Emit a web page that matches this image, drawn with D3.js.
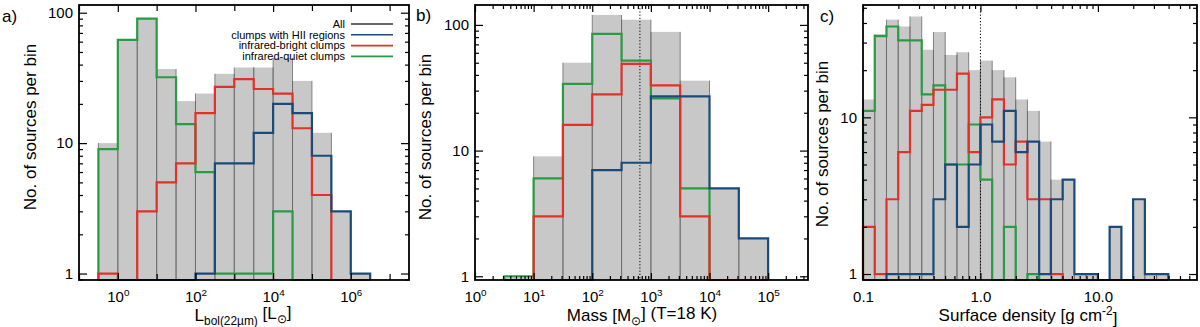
<!DOCTYPE html>
<html>
<head>
<meta charset="utf-8">
<script src="https://cdn.jsdelivr.net/npm/d3@7"></script>
<style>
  body { margin: 0; background: #fff; }
  svg { display: block; font-family: "Liberation Sans", Arial, Helvetica, sans-serif; }
</style>
</head>
<body>
<svg id="chart" width="1200" height="327"></svg>
<script>
/////////DATA///////////

// a) luminosity, bin edges in log10(L/Lsun)
const lumEdges = [-0.5, 0, 0.5, 1, 1.5, 2, 2.5, 3, 3.5, 4, 4.5, 5, 5.5, 6, 6.5];
const lumAll    = [10, 62, 90, 37, 21, 24, 34, 38, 38, 45, 30, 12, 3, 1];
const lumHII    = [0, 0, 0, 0, 0, 1, 7, 7, 12, 20, 17, 8, 3, 1];
const lumBright = [1, 0, 3, 5, 7, 17, 27, 31, 26, 24, 13, 4, 0, 0];
const lumQuiet  = [9, 62, 90, 32, 14, 6, 1, 1, 1, 3, 0, 0, 0, 0];

// b) mass, bin edges in log10(M/Msun)
const massEdges = [0.5, 1, 1.5, 2, 2.5, 3, 3.5, 4, 4.5, 5];
const massAll    = [1, 9, 50, 120, 110, 88, 36, 5, 2];
const massHII    = [0, 0, 0, 7, 8, 27, 27, 5, 2];
const massBright = [0, 3, 16, 28, 49, 33, 3, 0, 0];
const massQuiet  = [1, 6, 34, 85, 52, 26, 5, 0, 0];
const massMarker = 650;

// c) surface density, bin edges in log10(g cm^-2)
const sdEdges = [-1.0, -0.9, -0.8, -0.7, -0.6, -0.5, -0.4, -0.3, -0.2, -0.1, 0.0, 0.1, 0.2, 0.3,
                 0.4, 0.5, 0.6, 0.7, 0.8, 0.9, 1.0, 1.1, 1.2, 1.3, 1.4, 1.5, 1.6];
const sdAll    = [13, 34, 42, 38, 44, 27, 35, 25, 26, 20, 23, 20, 18, 13, 11, 7, 4, 4, 1, 1, 0, 2, 0, 3, 1, 1];
const sdHII    = [0, 0, 1, 1, 1, 1, 3, 5, 2, 5, 9, 7, 11, 6, 7, 1, 3, 4, 1, 1, 0, 2, 0, 3, 1, 1];
const sdBright = [2, 1, 3, 6, 11, 12, 15, 15, 19, 6, 10, 13, 5, 7, 3, 3, 1, 0, 0, 0, 0, 0, 0, 0, 0, 0];
const sdQuiet  = [11, 33, 38, 31, 31, 14, 16, 5, 5, 9, 4, 0, 2, 0, 1, 0, 0, 0, 0, 0, 0, 0, 0, 0, 0, 0];
const sdMarker = 1.0;

const legendLabels = ['All', 'clumps with HII regions', 'infrared-bright clumps', 'infrared-quiet clumps'];

/////////STYLE///////////

const colAll = '#333333';
const colHII = '#1c4a78';
const colBright = '#e2302b';
const colQuiet = '#2a9a44';

const svg = d3.select('#chart');
const plotTop = 5, plotBottom = 280;

const panels = [
  { id: 'a', left: 79, right: 409, xDom: [0.1, Math.pow(10, 7.5)], yDom: [0.892, 114.6],
    edges: lumEdges, all: lumAll, hii: lumHII, bright: lumBright, quiet: lumQuiet,
    xTicks: [1e0, 1e2, 1e4, 1e6], xMinor: [1e-1, 1e1, 1e3, 1e5, 1e7], xFmt: 'pow',
    yTicks: [1, 10, 100], yLabelX: 36, yLabelY: 127, tag: 'a)', tagX: 2, tagY: 22,
    xTitle: 'lum', xTitleX: 243, legend: true },
  { id: 'b', left: 475, right: 808, xDom: [1, Math.pow(10, 5.68)], yDom: [0.934, 144],
    edges: massEdges, all: massAll, hii: massHII, bright: massBright, quiet: massQuiet,
    xTicks: [1e0, 1e1, 1e2, 1e3, 1e4, 1e5], xMinor: 'auto', xFmt: 'pow',
    yTicks: [1, 10, 100], yLabelX: 431, yLabelY: 137, tag: 'b)', tagX: 416, tagY: 21,
    xTitle: 'mass', xTitleX: 642, marker: massMarker },
  { id: 'c', left: 863, right: 1197, xDom: [0.1, 69.8], yDom: [0.916, 52.1],
    edges: sdEdges, all: sdAll, hii: sdHII, bright: sdBright, quiet: sdQuiet,
    xTicks: [0.1, 1, 10], xMinor: 'auto', xFmt: 'dec',
    yTicks: [1, 10], yLabelX: 828, yLabelY: 144, tag: 'c)', tagX: 820, tagY: 22,
    xTitle: 'sd', xTitleX: 1028, marker: sdMarker }
];

panels.forEach(p => {
  const x = d3.scaleLog().domain(p.xDom).range([p.left, p.right]);
  const y = d3.scaleLog().domain(p.yDom).range([plotBottom, plotTop]);
  const g = svg.append('g').attr('id', 'panel-' + p.id);
  const yv = v => v > 0 ? y(v) : plotBottom;
  const xe = e => x(Math.pow(10, e));

  /////////BARS/////////
  const bars = p.all.map((v, i) => ({ x0: p.edges[i], x1: p.edges[i + 1], v: v })).filter(d => d.v > 0);
  g.selectAll('rect.bar')
    .data(bars)
    .enter()
    .append('rect')
    .attr('class', 'bar')
    .attr('x', d => xe(d.x0))
    .attr('width', d => xe(d.x1) - xe(d.x0))
    .attr('y', d => y(d.v))
    .attr('height', d => plotBottom - y(d.v))
    .attr('fill', '#c8c8c8');
  g.selectAll('line.sep')
    .data(bars.flatMap(d => [{ e: d.x0, v: d.v }, { e: d.x1, v: d.v }]))
    .enter()
    .append('line')
    .attr('class', 'sep')
    .attr('x1', d => xe(d.e)).attr('x2', d => xe(d.e))
    .attr('y1', plotBottom).attr('y2', d => y(d.v))
    .attr('stroke', '#6a6a6a')
    .attr('stroke-width', 0.8);

  /////////MARKER/////////
  if (p.marker) {
    g.append('line')
      .attr('x1', x(p.marker)).attr('x2', x(p.marker))
      .attr('y1', plotTop).attr('y2', plotBottom)
      .attr('stroke', '#000')
      .attr('stroke-width', 1)
      .attr('stroke-dasharray', '1.2,2');
  }

  /////////STEP LINES/////////
  const line = d3.line().x(d => xe(d[0])).y(d => d[1]).curve(d3.curveStepAfter);
  const steps = vals => {
    const pts = [[p.edges[0], plotBottom]];
    vals.forEach((v, i) => pts.push([p.edges[i], yv(v)]));
    pts.push([p.edges[vals.length], plotBottom]);
    return pts;
  };
  [[p.quiet, colQuiet], [p.bright, colBright], [p.hii, colHII]].forEach(([vals, col]) => {
    g.append('path')
      .attr('d', line(steps(vals)))
      .attr('fill', 'none')
      .attr('stroke', col)
      .attr('stroke-width', 2.2)
      .attr('stroke-linejoin', 'miter');
  });

  /////////AXES/////////
  const minorX = p.xMinor === 'auto' ? x.ticks().filter(t => !p.xTicks.some(m => Math.abs(m - t) / t < 1e-6)) : p.xMinor;
  const minorY = y.ticks().filter(t => !p.yTicks.some(m => Math.abs(m - t) / t < 1e-6));
  const minorXLen = p.xMinor === 'auto' ? 4 : 6;

  const addAxis = (axis, tr) => {
    const a = g.append('g').attr('transform', tr).call(axis);
    a.select('.domain').remove();
    a.selectAll('line').attr('stroke', '#000').attr('stroke-width', 1.2);
    return a;
  };

  // bottom
  const xAxis = addAxis(d3.axisBottom(x).tickValues(p.xTicks).tickSize(-7).tickPadding(11), `translate(0,${plotBottom})`);
  xAxis.selectAll('text').attr('font-size', 15).attr('fill', '#000').each(function (d) {
    const t = d3.select(this).text('');
    if (p.xFmt === 'pow') {
      t.append('tspan').text('10');
      t.append('tspan').attr('dy', '-0.55em').attr('font-size', '0.66em').text(Math.round(Math.log10(d)));
    } else {
      t.text(d3.format('.1f')(d));
    }
  });
  addAxis(d3.axisBottom(x).tickValues(minorX).tickSize(-minorXLen).tickFormat(''), `translate(0,${plotBottom})`);
  // top
  addAxis(d3.axisTop(x).tickValues(p.xTicks).tickSize(-7).tickFormat(''), `translate(0,${plotTop})`);
  addAxis(d3.axisTop(x).tickValues(minorX).tickSize(-minorXLen).tickFormat(''), `translate(0,${plotTop})`);
  // left
  const yAxis = addAxis(d3.axisLeft(y).tickValues(p.yTicks).tickSize(-8).tickPadding(6).tickFormat(d3.format('d')), `translate(${p.left},0)`);
  yAxis.selectAll('text').attr('font-size', 15).attr('fill', '#000');
  addAxis(d3.axisLeft(y).tickValues(minorY).tickSize(-4).tickFormat(''), `translate(${p.left},0)`);
  // right
  addAxis(d3.axisRight(y).tickValues(p.yTicks).tickSize(-8).tickFormat(''), `translate(${p.right},0)`);
  addAxis(d3.axisRight(y).tickValues(minorY).tickSize(-4).tickFormat(''), `translate(${p.right},0)`);

  g.append('rect')
    .attr('x', p.left).attr('y', plotTop)
    .attr('width', p.right - p.left).attr('height', plotBottom - plotTop)
    .attr('fill', 'none')
    .attr('stroke', '#000')
    .attr('stroke-width', 1.8);

  /////////LABELS/////////
  g.append('text')
    .attr('transform', `translate(${p.yLabelX},${p.yLabelY}) rotate(-90)`)
    .attr('text-anchor', 'middle')
    .attr('font-size', 17)
    .text('No. of sources per bin');

  g.append('text')
    .attr('x', p.tagX).attr('y', p.tagY)
    .attr('font-size', 17)
    .text(p.tag);

  const xt = g.append('text')
    .attr('x', p.xTitleX).attr('y', 321)
    .attr('text-anchor', 'middle')
    .attr('font-size', 17);
  if (p.xTitle === 'lum') {
    xt.append('tspan').text('L');
    xt.append('tspan').attr('font-size', '0.7em').attr('dy', '0.3em').text('bol(22\u00b5m)');
    xt.append('tspan').attr('dy', '-0.3em').text(' [L');
    xt.append('tspan').attr('font-size', '0.7em').attr('dy', '0.3em').text('\u2299');
    xt.append('tspan').attr('dy', '-0.3em').text(']');
  } else if (p.xTitle === 'mass') {
    xt.append('tspan').text('Mass [M');
    xt.append('tspan').attr('font-size', '0.7em').attr('dy', '0.3em').text('\u2299');
    xt.append('tspan').attr('dy', '-0.3em').text('] (T=18 K)');
  } else {
    xt.append('tspan').text('Surface density [g cm');
    xt.append('tspan').attr('font-size', '0.7em').attr('dy', '-0.5em').text('-2');
    xt.append('tspan').attr('dy', '0.5em').text(']');
  }

  /////////LEGEND/////////
  if (p.legend) {
    const cols = [colAll, colHII, colBright, colQuiet];
    const lg = g.selectAll('g.leg')
      .data(legendLabels)
      .enter()
      .append('g')
      .attr('class', 'leg')
      .attr('transform', (d, i) => `translate(0,${24 + i * 10.8})`);
    lg.append('text')
      .attr('x', 345).attr('dy', '0.35em')
      .attr('text-anchor', 'end')
      .attr('font-size', 11)
      .text(d => d);
    lg.append('line')
      .attr('x1', 351).attr('x2', 393)
      .attr('stroke', (d, i) => cols[i])
      .attr('stroke-width', 1.6);
  }
});
</script>
</body>
</html>
